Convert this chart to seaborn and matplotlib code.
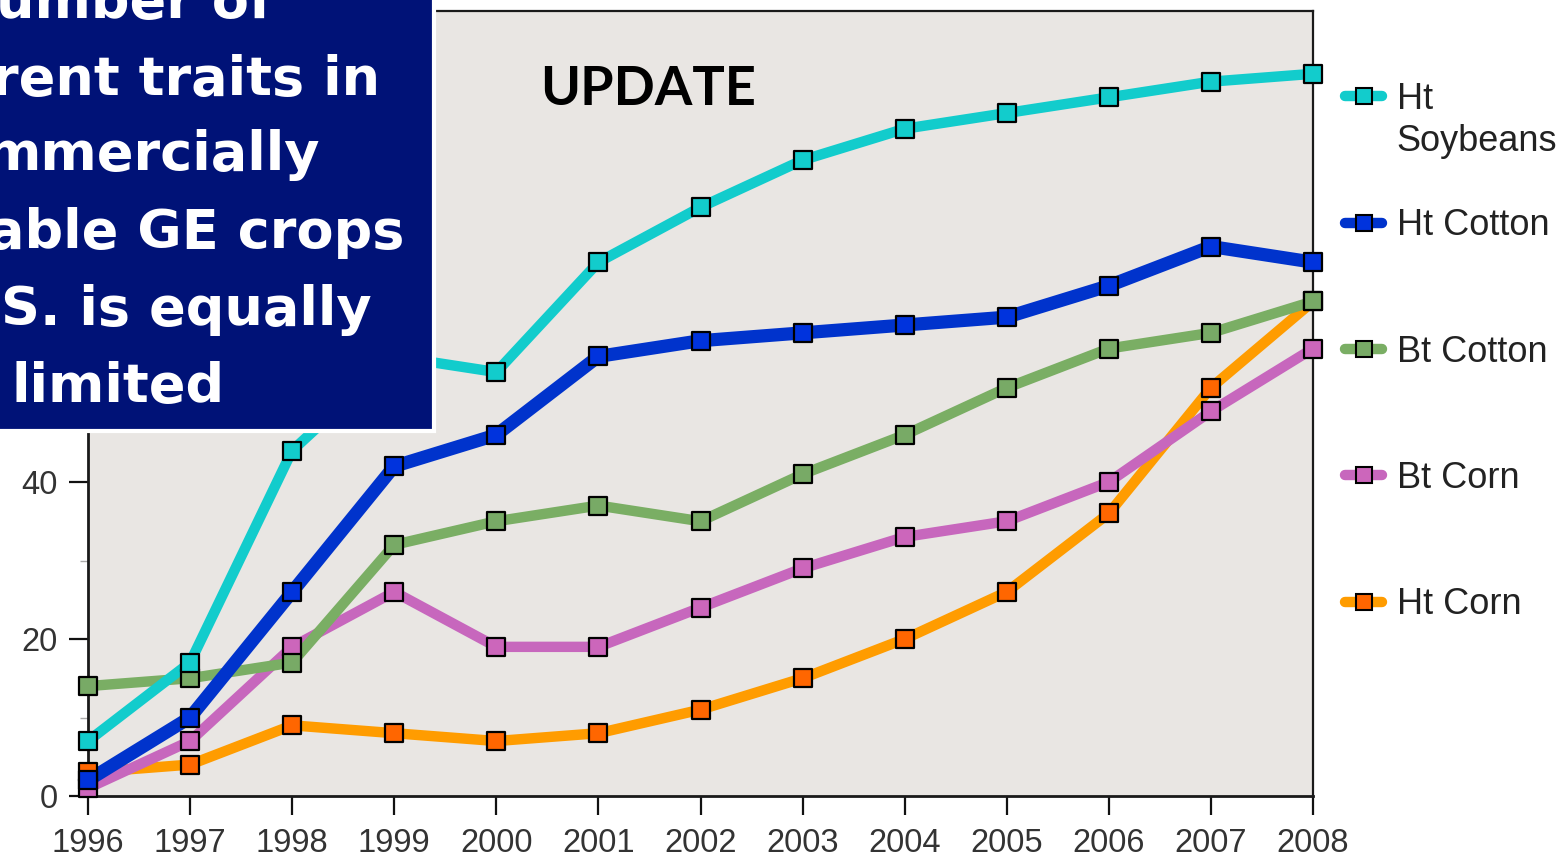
import matplotlib
matplotlib.use("Agg")
import matplotlib.pyplot as plt
import seaborn as sns
import pandas as pd
from matplotlib.lines import Line2D
from matplotlib.patches import Rectangle
from matplotlib.ticker import MultipleLocator

# Adoption of genetically engineered crops in the U.S. (% of planted acres)
years = [1996, 1997, 1998, 1999, 2000, 2001, 2002, 2003, 2004, 2005, 2006, 2007, 2008]
ht_soybeans = [7, 17, 44, 56, 54, 68, 75, 81, 85, 87, 89, 91, 92]
ht_cotton = [2, 10, 26, 42, 46, 56, 58, 59, 60, 61, 65, 70, 68]
bt_cotton = [14, 15, 17, 32, 35, 37, 35, 41, 46, 52, 57, 59, 63]
bt_corn = [1, 7, 19, 26, 19, 19, 24, 29, 33, 35, 40, 49, 57]
ht_corn = [3, 4, 9, 8, 7, 8, 11, 15, 20, 26, 36, 52, 63]

series_names = ["Ht Soybeans", "Ht Cotton", "Bt Cotton", "Bt Corn", "Ht Corn"]
series_values = [ht_soybeans, ht_cotton, bt_cotton, bt_corn, ht_corn]
legend_labels = ["Ht", "Ht Cotton", "Bt Cotton", "Bt Corn", "Ht Corn"]

y_ticks = [0, 20, 40, 60, 80, 100]
y_tick_labels = ["0", "20", "40", "", "", ""]  # upper labels sit beneath the headline panel

line_colors = {"Ht Soybeans": "#12cccc", "Ht Cotton": "#0033cc", "Bt Cotton": "#7aae64",
               "Bt Corn": "#c767bd", "Ht Corn": "#ff9c00"}
face_colors = {"Ht Soybeans": "#12cccc", "Ht Cotton": "#0033dd", "Bt Cotton": "#78aa66",
               "Bt Corn": "#cc66bb", "Ht Corn": "#ff6600"}
line_widths = {"Ht Soybeans": 7.5, "Ht Cotton": 9.5, "Bt Cotton": 7.5, "Bt Corn": 7.5, "Ht Corn": 7.5}

df = pd.DataFrame({"year": years})
for name, vals in zip(series_names, series_values):
    df[name] = vals
long_df = df.melt(id_vars="year", var_name="series", value_name="share")

sns.set_style("ticks")
plt.rcParams["font.family"] = ["Liberation Sans", "DejaVu Sans"]

W, H = 1563, 856
fig = plt.figure(figsize=(W / 100, H / 100), dpi=100)
fig.patch.set_facecolor("white")

left, right, top, bottom = 88, 1313, 11, 796
ax = fig.add_axes([left / W, 1 - bottom / H, (right - left) / W, (bottom - top) / H])
ax.set_facecolor("#e9e6e3")

draw_order = ["Ht Corn", "Bt Corn", "Bt Cotton", "Ht Cotton", "Ht Soybeans"]
for name in draw_order:
    sub = long_df[long_df["series"] == name]
    sns.lineplot(data=sub, x="year", y="share", ax=ax, color=line_colors[name],
                 lw=line_widths[name], solid_capstyle="round", solid_joinstyle="round",
                 zorder=2, clip_on=False, legend=False)
for name in draw_order:
    sub = long_df[long_df["series"] == name]
    sns.scatterplot(data=sub, x="year", y="share", ax=ax, marker="s", s=150,
                    color=face_colors[name], edgecolor="black", linewidth=1.6,
                    zorder=3, clip_on=False, legend=False)

ax.set_xlim(years[0], years[-1])
ax.set_ylim(y_ticks[0], y_ticks[-1])
ax.set_xticks(years)
ax.set_xticklabels([str(y) for y in years])
ax.set_yticks(y_ticks)
ax.set_yticklabels(y_tick_labels)
ax.yaxis.set_minor_locator(MultipleLocator(10))
ax.set_xlabel("")
ax.set_ylabel("")

ax.tick_params(axis="both", which="major", length=14, width=1.6, color="#111",
               labelsize=23.5, labelcolor="#333")
ax.tick_params(axis="x", which="major", pad=9)
ax.tick_params(axis="y", which="major", pad=8)
ax.tick_params(axis="y", which="minor", length=6, width=1, color="#aaaaaa")
for side in ["left", "bottom", "top", "right"]:
    ax.spines[side].set_visible(True)
    ax.spines[side].set_color("#1a1a1a")
    ax.spines[side].set_linewidth(1.6)
ax.spines["left"].set_linewidth(2)
ax.spines["bottom"].set_linewidth(2)

handles = [Line2D([], [], color=line_colors[n], lw=7.5, solid_capstyle="round",
                  marker="s", markersize=11, markerfacecolor=face_colors[n],
                  markeredgecolor="black", markeredgewidth=1.5)
           for n in series_names]
leg = ax.legend(handles, legend_labels, loc="upper left",
                bbox_to_anchor=(1345 / W, 1 - 82 / H), bbox_transform=fig.transFigure,
                frameon=False, fontsize=26, handlelength=1.03, handletextpad=0.4,
                labelspacing=2.53, borderpad=0, borderaxespad=0, labelcolor="#222")
# second line of the first legend label
ax.annotate("Soybeans", xy=(0, 0), xycoords=leg.texts[0], xytext=(0, -5),
            textcoords="offset points", ha="left", va="top", fontsize=26,
            color="#222", zorder=6, annotation_clip=False)

# headline panel in the upper left
fig.add_artist(Rectangle((-0.02, 1 - 431 / H), (434 / W) + 0.02, 431 / H + 0.02,
                         transform=fig.transFigure, facecolor="#001277",
                         edgecolor="white", lw=3, zorder=10))
headline = [("umber of", 272, 18), ("rent traits in", 380, 95), ("mmercially", 320, 170),
            ("able GE crops", 405, 248), ("S. is equally", 372, 325), ("limited", 225, 402)]
for txt, xr, yb in headline:
    fig.text(xr / W, 1 - yb / H, txt, ha="right", va="baseline", color="white",
             fontsize=39, fontweight="bold", family="DejaVu Sans", zorder=11)

fig.text(540 / W, 1 - 105 / H, "UPDATE", ha="left", va="baseline", color="black",
         fontsize=39, fontweight="bold", family="Lato", zorder=11)

fig.savefig("out.png", dpi=100)
